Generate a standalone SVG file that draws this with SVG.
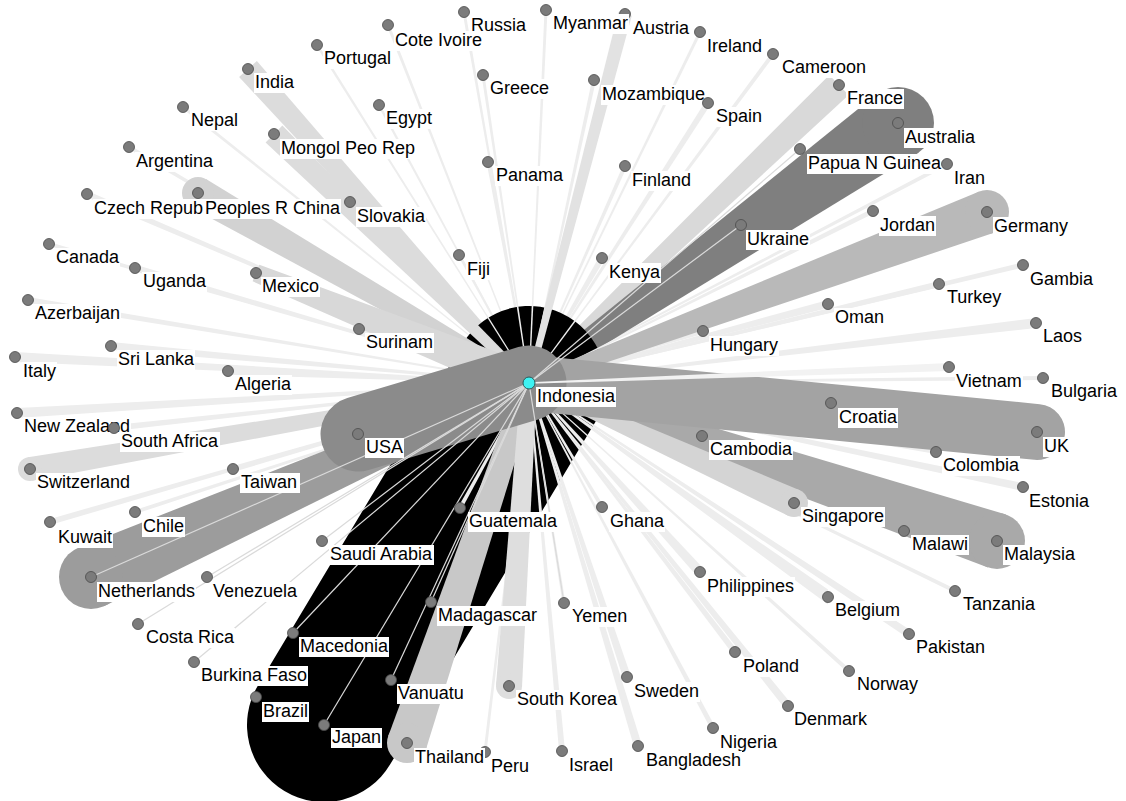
<svg xmlns="http://www.w3.org/2000/svg" width="1126" height="801" viewBox="0 0 1126 801">
<style>
.lt polygon{fill:#ededed}
.th{stroke:#dadada;stroke-width:1.2}
.dot{fill:#7b7b7b;stroke:#4a4a4a;stroke-width:0.8}
.bx{fill:#fff}
text{font-family:"Liberation Sans",Arial,sans-serif;font-size:18px;fill:#000}
</style>
<rect width="1126" height="801" fill="#fff"/>
<g id="edges">
<g id="under" class="lt">
<polygon points="0,-0.6 1,-1.5 1,1.5 0,0.6" transform="matrix(-65,-371,1,0,529,383)"/>
<polygon points="0,-0.6 1,-1.6 1,1.6 0,0.6" transform="matrix(-141,-358,1,0,529,383)"/>
<polygon points="0,-0.6 1,-1.7 1,1.7 0,0.6" transform="matrix(171,-351,1,0,529,383)"/>
<polygon points="0,-0.6 1,-3.6 1,3.6 0,0.6" transform="matrix(179,-280,1,0,529,383)"/>
<polygon points="0,-0.6 1,-1.4 1,1.4 0,0.6" transform="matrix(-150,-278,1,0,529,383)"/>
<polygon points="0,-0.6 1,-1.9 1,1.9 0,0.6" transform="matrix(-346,-276,0,1,529,383)"/>
<polygon points="0,-0.6 1,-2.3 1,2.3 0,0.6" transform="matrix(418,-219,0,1,529,383)"/>
<polygon points="0,-0.6 1,-1.5 1,1.5 0,0.6" transform="matrix(-41,-221,1,0,529,383)"/>
<polygon points="0,-0.6 1,-2.2 1,2.2 0,0.6" transform="matrix(96,-217,1,0,529,383)"/>
<polygon points="0,-0.6 1,-2.8 1,2.8 0,0.6" transform="matrix(-179,-181,1,0,529,383)"/>
<polygon points="0,-0.6 1,-1.4 1,1.4 0,0.6" transform="matrix(-70,-128,1,0,529,383)"/>
<polygon points="0,-0.6 1,-3.5 1,3.5 0,0.6" transform="matrix(73,-125,1,0,529,383)"/>
<polygon style="fill:#dcdcdc" points="256.9,61 532,380.3 526,385.7 239.1,77"/>
<polygon style="fill:#d9d9d9" points="829.3,74.9 525.5,379.4 532.5,386.6 848.7,95.1"/>
<g fill="#7f7f7f"><polygon style="fill:#7f7f7f" points="877.3,93.6 525,377.5 533,388.5 918.7,152.4"/><circle cx="898" cy="123" r="36"/></g>
</g>
<line id="e-japan" x1="324" y1="725" x2="529" y2="383" stroke="#000" stroke-width="154" stroke-linecap="round"/>
<g id="over" class="lt">
<polygon points="0,-0.6 1,-1.5 1,1.5 0,0.6" transform="matrix(17,-373,1,0,529,383)"/>
<polygon points="0,-0.6 1,-1.5 1,1.5 0,0.6" transform="matrix(-212,-338,1,0,529,383)"/>
<polygon points="0,-0.6 1,-2.5 1,2.5 0,0.6" transform="matrix(244,-329,1,0,529,383)"/>
<polygon points="0,-0.6 1,-1.5 1,1.5 0,0.6" transform="matrix(-46,-308,1,0,529,383)"/>
<polygon points="0,-0.6 1,-2 1,2 0,0.6" transform="matrix(65,-303,1,0,529,383)"/>
<polygon points="0,-0.6 1,-2.3 1,2.3 0,0.6" transform="matrix(-400,-236,0,1,529,383)"/>
<polygon points="0,-0.6 1,-3.3 1,3.3 0,0.6" transform="matrix(-442,-189,0,1,529,383)"/>
<polygon points="0,-0.6 1,-2.8 1,2.8 0,0.6" transform="matrix(344,-172,0,1,529,383)"/>
<polygon points="0,-0.6 1,-2.1 1,2.1 0,0.6" transform="matrix(-480,-139,0,1,529,383)"/>
<polygon points="0,-0.6 1,-3.6 1,3.6 0,0.6" transform="matrix(-394,-115,0,1,529,383)"/>
<polygon points="0,-0.6 1,-2.6 1,2.6 0,0.6" transform="matrix(494,-118,0,1,529,383)"/>
<polygon points="0,-0.6 1,-3.1 1,3.1 0,0.6" transform="matrix(410,-99,0,1,529,383)"/>
<polygon points="0,-0.6 1,-3 1,3 0,0.6" transform="matrix(-501,-83,0,1,529,383)"/>
<polygon points="0,-0.6 1,-4.1 1,4.1 0,0.6" transform="matrix(299,-79,0,1,529,383)"/>
<polygon points="0,-0.6 1,-5 1,5 0,0.6" transform="matrix(507,-60,0,1,529,383)"/>
<polygon points="0,-0.6 1,-4.2 1,4.2 0,0.6" transform="matrix(-170,-54,0,1,529,383)"/>
<polygon points="0,-0.6 1,-3.1 1,3.1 0,0.6" transform="matrix(174,-52,0,1,529,383)"/>
<polygon points="0,-0.6 1,-4 1,4 0,0.6" transform="matrix(-418,-37,0,1,529,383)"/>
<polygon points="0,-0.6 1,-5 1,5 0,0.6" transform="matrix(-514,-26,0,1,529,383)"/>
<polygon points="0,-0.6 1,-4 1,4 0,0.6" transform="matrix(-301,-12,0,1,529,383)"/>
<polygon points="0,-0.6 1,-2 1,2 0,0.6" transform="matrix(514,-5,0,1,529,383)"/>
<polygon points="0,-0.6 1,-2 1,2 0,0.6" transform="matrix(302,20,0,1,529,383)"/>
<polygon points="0,-0.6 1,-5 1,5 0,0.6" transform="matrix(-512,30,0,1,529,383)"/>
<polygon points="0,-0.6 1,-3 1,3 0,0.6" transform="matrix(-415,45,0,1,529,383)"/>
<polygon points="0,-0.6 1,-2.6 1,2.6 0,0.6" transform="matrix(173,53,0,1,529,383)"/>
<polygon points="0,-0.6 1,-2 1,2 0,0.6" transform="matrix(407,69,0,1,529,383)"/>
<polygon points="0,-0.6 1,-3.1 1,3.1 0,0.6" transform="matrix(-296,86,0,1,529,383)"/>
<polygon points="0,-0.6 1,-4.1 1,4.1 0,0.6" transform="matrix(494,104,0,1,529,383)"/>
<polygon points="0,-0.6 1,-2.3 1,2.3 0,0.6" transform="matrix(-69,125,1,0,529,383)"/>
<polygon points="0,-0.6 1,-2.3 1,2.3 0,0.6" transform="matrix(73,124,1,0,529,383)"/>
<polygon points="0,-0.6 1,-2.1 1,2.1 0,0.6" transform="matrix(-394,129,0,1,529,383)"/>
<polygon points="0,-0.6 1,-3.1 1,3.1 0,0.6" transform="matrix(-479,139,0,1,529,383)"/>
<polygon points="0,-0.6 1,-2.2 1,2.2 0,0.6" transform="matrix(375,148,0,1,529,383)"/>
<polygon points="0,-0.6 1,-6.7 1,6.7 0,0.6" transform="matrix(171,189,1,0,529,383)"/>
<polygon points="0,-0.6 1,-7.4 1,7.4 0,0.6" transform="matrix(299,214,0,1,529,383)"/>
<polygon points="0,-0.6 1,-2.2 1,2.2 0,0.6" transform="matrix(426,208,0,1,529,383)"/>
<polygon points="0,-0.6 1,-1.5 1,1.5 0,0.6" transform="matrix(35,220,1,0,529,383)"/>
<polygon points="0,-0.6 1,-4.8 1,4.8 0,0.6" transform="matrix(380,251,0,1,529,383)"/>
<polygon points="0,-0.6 1,-3.8 1,3.8 0,0.6" transform="matrix(206,269,1,0,529,383)"/>
<polygon points="0,-0.6 1,-2.7 1,2.7 0,0.6" transform="matrix(320,288,0,1,529,383)"/>
<polygon points="0,-0.6 1,-4.2 1,4.2 0,0.6" transform="matrix(98,294,1,0,529,383)"/>
<polygon points="0,-0.6 1,-5.1 1,5.1 0,0.6" transform="matrix(259,323,1,0,529,383)"/>
<polygon points="0,-0.6 1,-2.8 1,2.8 0,0.6" transform="matrix(184,345,1,0,529,383)"/>
<polygon points="0,-0.6 1,-1.5 1,1.5 0,0.6" transform="matrix(-44,369,1,0,529,383)"/>
<polygon points="0,-0.6 1,-3 1,3 0,0.6" transform="matrix(33,368,1,0,529,383)"/>
<polygon points="0,-0.6 1,-4.2 1,4.2 0,0.6" transform="matrix(109,363,1,0,529,383)"/>
</g>
<g id="bands">
<polygon fill="#e2e2e2" points="618.2,12.2 526.1,382.2 531.9,383.8 631.8,15.8"/>
<g fill="#9c9c9c"><polygon points="78.1,547.7 524.2,372 533.8,394 103.9,606.3"/><circle cx="91" cy="577" r="32"/></g>
<g fill="#dcdcdc"><polygon points="28,457.2 528.3,379.1 529.7,386.9 32,480.8"/><circle cx="30" cy="469" r="12"/></g>
<g fill="#d2d2d2"><polygon points="206,179.1 532,377.8 526,388.2 190,206.9"/><circle cx="198" cy="193" r="16"/></g>
<polygon fill="#dcdcdc" points="282.4,125.4 531.8,380.1 526.2,385.9 265.6,142.6"/>
<polygon fill="#d8d8d8" points="259.4,264.7 535.7,366.3 522.3,399.7 252.6,281.3"/>
<g fill="#b9b9b9"><polygon points="979.3,191.4 527.2,378.3 530.8,387.7 994.7,232.6"/><circle cx="987" cy="212" r="22"/></g>
<g fill="#a9a9a9"><polygon points="1006,514.5 532.2,373.5 525.8,392.5 988,567.5"/><circle cx="997" cy="541" r="28"/></g>
<g fill="#d4d4d4"><polygon points="799.8,490.2 531.1,378.4 526.9,387.6 788.2,515.8"/><circle cx="794" cy="503" r="14"/></g>
<line x1="1037" y1="432" x2="529" y2="383" stroke="#a3a3a3" stroke-width="56" stroke-linecap="round"/>
<g fill="#c8c8c8"><polygon points="388.1,736.6 519.5,379.8 538.5,386.2 425.9,749.4"/><circle cx="407" cy="743" r="20"/></g>
<g fill="#dedede"><polygon points="496,685.1 521,382.5 537,383.5 522,686.9"/><circle cx="509" cy="686" r="13"/></g>
<line x1="358" y1="434" x2="529" y2="383" stroke="#8b8b8b" stroke-width="75" stroke-linecap="round"/>
</g>
<g id="top-lines">
<polygon fill="#f2f2f2" points="0,-0.8 1,-4 1,4 0,0.8" transform="matrix(420,-16,0,1,529,383)"/>
<g class="th">
<line x1="800" y1="149" x2="529" y2="383"/>
<line x1="741" y1="225" x2="529" y2="383"/>
<line x1="138" y1="624" x2="529" y2="383"/>
<line x1="207" y1="577" x2="529" y2="383"/>
<line x1="91" y1="577" x2="529" y2="383"/>
<line x1="293" y1="633" x2="529" y2="383"/>
<line x1="322" y1="541" x2="529" y2="383"/>
<line x1="194" y1="662" x2="529" y2="383"/>
<line x1="391" y1="680" x2="529" y2="383"/>
<line x1="431" y1="602" x2="529" y2="383"/>
<line x1="324" y1="725" x2="529" y2="383"/>
<line x1="564" y1="603" x2="529" y2="383"/>
</g>
</g>
</g>
<g id="nodes">
<g id="n-czech"><circle class="dot" cx="87" cy="194" r="5.5"/><rect class="bx" x="93" y="199" width="111" height="20"/><text x="94" y="214">Czech Repub</text></g>
<g id="n-china"><circle class="dot" cx="198" cy="193" r="5.5"/><rect class="bx" x="204" y="199" width="137" height="20"/><text x="205" y="214">Peoples R China</text></g>
<g id="n-russia"><circle class="dot" cx="464" cy="12" r="5.5"/><rect class="bx" x="470" y="16" width="57" height="20"/><text x="471" y="31">Russia</text></g>
<g id="n-austria"><circle class="dot" cx="625" cy="14" r="5.5"/><rect class="bx" x="632" y="19" width="58" height="20"/><text x="633" y="34">Austria</text></g>
<g id="n-myanmar"><circle class="dot" cx="546" cy="10" r="5.5"/><rect class="bx" x="552" y="14" width="77" height="20"/><text x="553" y="29">Myanmar</text></g>
<g id="n-coteivoire"><circle class="dot" cx="388" cy="25" r="5.5"/><rect class="bx" x="394" y="31" width="89" height="20"/><text x="395" y="46">Cote Ivoire</text></g>
<g id="n-portugal"><circle class="dot" cx="317" cy="45" r="5.5"/><rect class="bx" x="323" y="49" width="69" height="20"/><text x="324" y="64">Portugal</text></g>
<g id="n-ireland"><circle class="dot" cx="700" cy="32" r="5.5"/><rect class="bx" x="706" y="37" width="57" height="20"/><text x="707" y="52">Ireland</text></g>
<g id="n-cameroon"><circle class="dot" cx="773" cy="54" r="5.5"/><rect class="bx" x="781" y="58" width="86" height="20"/><text x="782" y="73">Cameroon</text></g>
<g id="n-india"><circle class="dot" cx="248" cy="69" r="5.5"/><rect class="bx" x="254" y="73" width="41" height="20"/><text x="255" y="88">India</text></g>
<g id="n-greece"><circle class="dot" cx="483" cy="75" r="5.5"/><rect class="bx" x="489" y="79" width="61" height="20"/><text x="490" y="94">Greece</text></g>
<g id="n-mozambique"><circle class="dot" cx="594" cy="80" r="5.5"/><rect class="bx" x="601" y="85" width="105" height="20"/><text x="602" y="100">Mozambique</text></g>
<g id="n-spain"><circle class="dot" cx="708" cy="103" r="5.5"/><rect class="bx" x="715" y="107" width="48" height="20"/><text x="716" y="122">Spain</text></g>
<g id="n-france"><circle class="dot" cx="839" cy="85" r="5.5"/><rect class="bx" x="846" y="89" width="58" height="20"/><text x="847" y="104">France</text></g>
<g id="n-egypt"><circle class="dot" cx="379" cy="105" r="5.5"/><rect class="bx" x="385" y="109" width="48" height="20"/><text x="386" y="124">Egypt</text></g>
<g id="n-nepal"><circle class="dot" cx="183" cy="107" r="5.5"/><rect class="bx" x="190" y="111" width="49" height="20"/><text x="191" y="126">Nepal</text></g>
<g id="n-australia"><circle class="dot" cx="898" cy="123" r="5.5"/><rect class="bx" x="904" y="128" width="72" height="20"/><text x="905" y="143">Australia</text></g>
<g id="n-mongol"><circle class="dot" cx="274" cy="134" r="5.5"/><rect class="bx" x="280" y="139" width="136" height="20"/><text x="281" y="154">Mongol Peo Rep</text></g>
<g id="n-argentina"><circle class="dot" cx="129" cy="147" r="5.5"/><rect class="bx" x="135" y="152" width="79" height="20"/><text x="136" y="167">Argentina</text></g>
<g id="n-papua"><circle class="dot" cx="800" cy="149" r="5.5"/><rect class="bx" x="807" y="154" width="135" height="20"/><text x="808" y="169">Papua N Guinea</text></g>
<g id="n-iran"><circle class="dot" cx="947" cy="164" r="5.5"/><rect class="bx" x="953" y="169" width="33" height="20"/><text x="954" y="184">Iran</text></g>
<g id="n-panama"><circle class="dot" cx="488" cy="162" r="5.5"/><rect class="bx" x="495" y="166" width="69" height="20"/><text x="496" y="181">Panama</text></g>
<g id="n-finland"><circle class="dot" cx="625" cy="166" r="5.5"/><rect class="bx" x="631" y="171" width="61" height="20"/><text x="632" y="186">Finland</text></g>
<g id="n-slovakia"><circle class="dot" cx="350" cy="202" r="5.5"/><rect class="bx" x="356" y="207" width="70" height="20"/><text x="357" y="222">Slovakia</text></g>
<g id="n-jordan"><circle class="dot" cx="873" cy="211" r="5.5"/><rect class="bx" x="879" y="216" width="57" height="20"/><text x="880" y="231">Jordan</text></g>
<g id="n-germany"><circle class="dot" cx="987" cy="212" r="5.5"/><rect class="bx" x="993" y="217" width="76" height="20"/><text x="994" y="232">Germany</text></g>
<g id="n-ukraine"><circle class="dot" cx="741" cy="225" r="5.5"/><rect class="bx" x="746" y="230" width="64" height="20"/><text x="747" y="245">Ukraine</text></g>
<g id="n-canada"><circle class="dot" cx="49" cy="244" r="5.5"/><rect class="bx" x="55" y="248" width="65" height="20"/><text x="56" y="263">Canada</text></g>
<g id="n-fiji"><circle class="dot" cx="459" cy="255" r="5.5"/><rect class="bx" x="466" y="260" width="25" height="20"/><text x="467" y="275">Fiji</text></g>
<g id="n-kenya"><circle class="dot" cx="602" cy="258" r="5.5"/><rect class="bx" x="608" y="263" width="53" height="20"/><text x="609" y="278">Kenya</text></g>
<g id="n-uganda"><circle class="dot" cx="135" cy="268" r="5.5"/><rect class="bx" x="142" y="272" width="65" height="20"/><text x="143" y="287">Uganda</text></g>
<g id="n-mexico"><circle class="dot" cx="256" cy="273" r="5.5"/><rect class="bx" x="261" y="277" width="59" height="20"/><text x="262" y="292">Mexico</text></g>
<g id="n-gambia"><circle class="dot" cx="1023" cy="265" r="5.5"/><rect class="bx" x="1029" y="270" width="65" height="20"/><text x="1030" y="285">Gambia</text></g>
<g id="n-turkey"><circle class="dot" cx="939" cy="284" r="5.5"/><rect class="bx" x="946" y="288" width="57" height="20"/><text x="947" y="303">Turkey</text></g>
<g id="n-azerbaijan"><circle class="dot" cx="28" cy="300" r="5.5"/><rect class="bx" x="34" y="304" width="87" height="20"/><text x="35" y="319">Azerbaijan</text></g>
<g id="n-oman"><circle class="dot" cx="828" cy="304" r="5.5"/><rect class="bx" x="834" y="308" width="51" height="20"/><text x="835" y="323">Oman</text></g>
<g id="n-laos"><circle class="dot" cx="1036" cy="323" r="5.5"/><rect class="bx" x="1042" y="327" width="41" height="20"/><text x="1043" y="342">Laos</text></g>
<g id="n-surinam"><circle class="dot" cx="359" cy="329" r="5.5"/><rect class="bx" x="365" y="333" width="69" height="20"/><text x="366" y="348">Surinam</text></g>
<g id="n-hungary"><circle class="dot" cx="703" cy="331" r="5.5"/><rect class="bx" x="709" y="336" width="70" height="20"/><text x="710" y="351">Hungary</text></g>
<g id="n-srilanka"><circle class="dot" cx="111" cy="346" r="5.5"/><rect class="bx" x="117" y="350" width="78" height="20"/><text x="118" y="365">Sri Lanka</text></g>
<g id="n-italy"><circle class="dot" cx="15" cy="357" r="5.5"/><rect class="bx" x="22" y="362" width="35" height="20"/><text x="23" y="377">Italy</text></g>
<g id="n-algeria"><circle class="dot" cx="228" cy="371" r="5.5"/><rect class="bx" x="234" y="375" width="58" height="20"/><text x="235" y="390">Algeria</text></g>
<g id="n-vietnam"><circle class="dot" cx="949" cy="367" r="5.5"/><rect class="bx" x="955" y="372" width="68" height="20"/><text x="956" y="387">Vietnam</text></g>
<g id="n-bulgaria"><circle class="dot" cx="1043" cy="378" r="5.5"/><rect class="bx" x="1050" y="382" width="68" height="20"/><text x="1051" y="397">Bulgaria</text></g>
<g id="n-croatia"><circle class="dot" cx="831" cy="403" r="5.5"/><rect class="bx" x="838" y="408" width="60" height="20"/><text x="839" y="423">Croatia</text></g>
<g id="n-newzealand"><circle class="dot" cx="17" cy="413" r="5.5"/><rect class="bx" x="23" y="417" width="108" height="20"/><text x="24" y="432">New Zealand</text></g>
<g id="n-southafrica"><circle class="dot" cx="114" cy="428" r="5.5"/><rect class="bx" x="120" y="432" width="100" height="20"/><text x="121" y="447">South Africa</text></g>
<g id="n-usa"><circle class="dot" cx="358" cy="434" r="5.5"/><rect class="bx" x="365" y="438" width="39" height="20"/><text x="366" y="453">USA</text></g>
<g id="n-uk"><circle class="dot" cx="1037" cy="432" r="5.5"/><rect class="bx" x="1043" y="437" width="27" height="20"/><text x="1044" y="452">UK</text></g>
<g id="n-cambodia"><circle class="dot" cx="702" cy="436" r="5.5"/><rect class="bx" x="709" y="440" width="84" height="20"/><text x="710" y="455">Cambodia</text></g>
<g id="n-colombia"><circle class="dot" cx="936" cy="452" r="5.5"/><rect class="bx" x="942" y="456" width="78" height="20"/><text x="943" y="471">Colombia</text></g>
<g id="n-switzerland"><circle class="dot" cx="30" cy="469" r="5.5"/><rect class="bx" x="36" y="473" width="95" height="20"/><text x="37" y="488">Switzerland</text></g>
<g id="n-taiwan"><circle class="dot" cx="233" cy="469" r="5.5"/><rect class="bx" x="240" y="473" width="60" height="20"/><text x="241" y="488">Taiwan</text></g>
<g id="n-estonia"><circle class="dot" cx="1023" cy="487" r="5.5"/><rect class="bx" x="1028" y="492" width="62" height="20"/><text x="1029" y="507">Estonia</text></g>
<g id="n-singapore"><circle class="dot" cx="794" cy="503" r="5.5"/><rect class="bx" x="801" y="507" width="84" height="20"/><text x="802" y="522">Singapore</text></g>
<g id="n-guatemala"><circle class="dot" cx="460" cy="508" r="5.5"/><rect class="bx" x="468" y="512" width="90" height="20"/><text x="469" y="527">Guatemala</text></g>
<g id="n-ghana"><circle class="dot" cx="602" cy="507" r="5.5"/><rect class="bx" x="609" y="512" width="56" height="20"/><text x="610" y="527">Ghana</text></g>
<g id="n-chile"><circle class="dot" cx="135" cy="512" r="5.5"/><rect class="bx" x="142" y="517" width="43" height="20"/><text x="143" y="532">Chile</text></g>
<g id="n-kuwait"><circle class="dot" cx="50" cy="522" r="5.5"/><rect class="bx" x="57" y="528" width="56" height="20"/><text x="58" y="543">Kuwait</text></g>
<g id="n-malawi"><circle class="dot" cx="904" cy="531" r="5.5"/><rect class="bx" x="911" y="535" width="58" height="20"/><text x="912" y="550">Malawi</text></g>
<g id="n-malaysia"><circle class="dot" cx="997" cy="541" r="5.5"/><rect class="bx" x="1003" y="545" width="73" height="20"/><text x="1004" y="560">Malaysia</text></g>
<g id="n-saudiarabia"><circle class="dot" cx="322" cy="541" r="5.5"/><rect class="bx" x="329" y="545" width="105" height="20"/><text x="330" y="560">Saudi Arabia</text></g>
<g id="n-netherlands"><circle class="dot" cx="91" cy="577" r="5.5"/><rect class="bx" x="97" y="582" width="99" height="20"/><text x="98" y="597">Netherlands</text></g>
<g id="n-venezuela"><circle class="dot" cx="207" cy="577" r="5.5"/><rect class="bx" x="212" y="582" width="87" height="20"/><text x="213" y="597">Venezuela</text></g>
<g id="n-philippines"><circle class="dot" cx="700" cy="572" r="5.5"/><rect class="bx" x="706" y="577" width="89" height="20"/><text x="707" y="592">Philippines</text></g>
<g id="n-belgium"><circle class="dot" cx="828" cy="597" r="5.5"/><rect class="bx" x="834" y="601" width="67" height="20"/><text x="835" y="616">Belgium</text></g>
<g id="n-tanzania"><circle class="dot" cx="955" cy="591" r="5.5"/><rect class="bx" x="962" y="595" width="76" height="20"/><text x="963" y="610">Tanzania</text></g>
<g id="n-madagascar"><circle class="dot" cx="431" cy="602" r="5.5"/><rect class="bx" x="437" y="606" width="101" height="20"/><text x="438" y="621">Madagascar</text></g>
<g id="n-yemen"><circle class="dot" cx="564" cy="603" r="5.5"/><rect class="bx" x="571" y="607" width="59" height="20"/><text x="572" y="622">Yemen</text></g>
<g id="n-costarica"><circle class="dot" cx="138" cy="624" r="5.5"/><rect class="bx" x="145" y="628" width="90" height="20"/><text x="146" y="643">Costa Rica</text></g>
<g id="n-macedonia"><circle class="dot" cx="293" cy="633" r="5.5"/><rect class="bx" x="299" y="637" width="90" height="20"/><text x="300" y="652">Macedonia</text></g>
<g id="n-pakistan"><circle class="dot" cx="909" cy="634" r="5.5"/><rect class="bx" x="915" y="638" width="71" height="20"/><text x="916" y="653">Pakistan</text></g>
<g id="n-burkinafaso"><circle class="dot" cx="194" cy="662" r="5.5"/><rect class="bx" x="200" y="666" width="108" height="20"/><text x="201" y="681">Burkina Faso</text></g>
<g id="n-poland"><circle class="dot" cx="735" cy="652" r="5.5"/><rect class="bx" x="742" y="657" width="58" height="20"/><text x="743" y="672">Poland</text></g>
<g id="n-norway"><circle class="dot" cx="849" cy="671" r="5.5"/><rect class="bx" x="856" y="675" width="63" height="20"/><text x="857" y="690">Norway</text></g>
<g id="n-vanuatu"><circle class="dot" cx="391" cy="680" r="5.5"/><rect class="bx" x="397" y="684" width="69" height="20"/><text x="398" y="699">Vanuatu</text></g>
<g id="n-southkorea"><circle class="dot" cx="509" cy="686" r="5.5"/><rect class="bx" x="516" y="690" width="102" height="20"/><text x="517" y="705">South Korea</text></g>
<g id="n-sweden"><circle class="dot" cx="627" cy="677" r="5.5"/><rect class="bx" x="633" y="682" width="67" height="20"/><text x="634" y="697">Sweden</text></g>
<g id="n-brazil"><circle class="dot" cx="256" cy="697" r="5.5"/><rect class="bx" x="262" y="702" width="47" height="20"/><text x="263" y="717">Brazil</text></g>
<g id="n-denmark"><circle class="dot" cx="788" cy="706" r="5.5"/><rect class="bx" x="793" y="710" width="75" height="20"/><text x="794" y="725">Denmark</text></g>
<g id="n-nigeria"><circle class="dot" cx="713" cy="728" r="5.5"/><rect class="bx" x="719" y="733" width="59" height="20"/><text x="720" y="748">Nigeria</text></g>
<g id="n-japan"><circle class="dot" cx="324" cy="725" r="5.5"/><rect class="bx" x="331" y="728" width="51" height="20"/><text x="332" y="743">Japan</text></g>
<g id="n-peru"><circle class="dot" cx="485" cy="752" r="5.5"/><rect class="bx" x="490" y="757" width="40" height="20"/><text x="491" y="772">Peru</text></g>
<g id="n-thailand"><circle class="dot" cx="407" cy="743" r="5.5"/><rect class="bx" x="414" y="748" width="71" height="20"/><text x="415" y="763">Thailand</text></g>
<g id="n-israel"><circle class="dot" cx="562" cy="751" r="5.5"/><rect class="bx" x="568" y="756" width="46" height="20"/><text x="569" y="771">Israel</text></g>
<g id="n-bangladesh"><circle class="dot" cx="638" cy="746" r="5.5"/><rect class="bx" x="645" y="751" width="97" height="20"/><text x="646" y="766">Bangladesh</text></g>
<g id="n-indonesia"><circle cx="529" cy="383" r="6" fill="#3ef2f2" stroke="#2a5a5a" stroke-width="1"/><rect class="bx" x="536" y="387" width="80" height="20"/><text x="537" y="402">Indonesia</text></g>
</g>
</svg>
